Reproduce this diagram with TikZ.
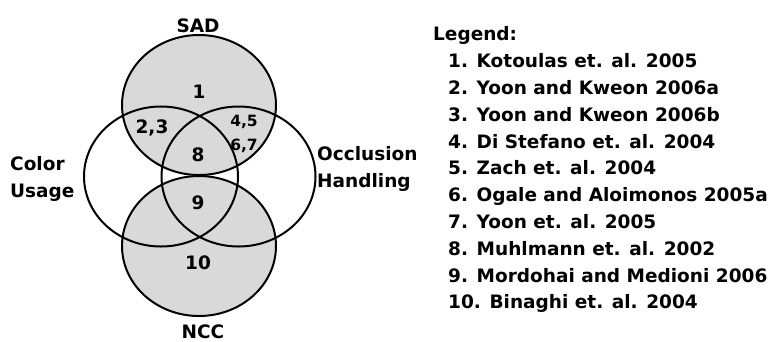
\documentclass[tikz,border=0pt]{standalone}
\usepackage{fontspec}
\setmainfont{DejaVu Sans}
\usetikzlibrary{shapes.geometric}
\definecolor{vennfill}{RGB}{217,217,217}
\begin{document}
\begin{tikzpicture}[x=1pt,y=-1pt,
  venn/.style={ellipse,line width=2pt,minimum width=154pt,minimum height=140pt,inner sep=0pt,outer sep=0pt},
  graybox/.style={venn,draw=black,fill=vennfill},
  whitebox/.style={venn,draw=black},
  lbl/.style={font=\bfseries\fontsize{18.5}{20}\selectfont,inner sep=0pt},
  small/.style={font=\bfseries\fontsize{15.5}{17}\selectfont,inner sep=0pt},
  leg/.style={font=\bfseries\fontsize{18.5}{20}\selectfont,inner sep=0pt,anchor=base west}]
\useasboundingbox (0,0) rectangle (781,341);
% circles
\node[graybox] (sad) at (199,105) {};
\node[graybox] (ncc) at (199,246) {};
\node[whitebox] (color) at (161,176.5) {};
\node[whitebox] (occl) at (238.5,176.5) {};
% set labels
\node[lbl,anchor=base] (tsad) at (198,32) {SAD};
\node[lbl,anchor=base] (tncc) at (203,338) {NCC};
\node[lbl,anchor=base west] (tcol1) at (10,170) {Color};
\node[lbl,anchor=base west] (tcol2) at (10,197) {Usage};
\node[lbl,anchor=base west] (tocc1) at (317,160.5) {Occlusion};
\node[lbl,anchor=base west] (tocc2) at (317,187) {Handling};
% region labels
\node[lbl,anchor=base] (r1) at (199,98.3) {1};
\node[lbl,anchor=base] (r23) at (152,133) {2,3};
\node[small,anchor=base] (r45) at (244,126) {4,5};
\node[small,anchor=base] (r67) at (244,150) {6,7};
\node[lbl,anchor=base] (r8) at (198,161.7) {8};
\node[lbl,anchor=base] (r9) at (198,209) {9};
\node[lbl,anchor=base] (r10) at (198,269) {10};
% legend
\node[leg] (legt) at (433,40.7) {Legend:};
\node[leg] (l1) at (448,67.7) {1. Kotoulas et. al. 2005};
\node[leg] (l2) at (448,94.5) {2. Yoon and Kweon 2006a};
\node[leg] (l3) at (448,121.3) {3. Yoon and Kweon 2006b};
\node[leg] (l4) at (448,148.1) {4. Di Stefano et. al. 2004};
\node[leg] (l5) at (448,174.9) {5. Zach et. al. 2004};
\node[leg] (l6) at (448,201.7) {6. Ogale and Aloimonos 2005a};
\node[leg] (l7) at (448,228.5) {7. Yoon et. al. 2005};
\node[leg] (l8) at (448,255.3) {8. Muhlmann et. al. 2002};
\node[leg] (l9) at (448,282.1) {9. Mordohai and Medioni 2006};
\node[leg] (l10) at (448,308.9) {10. Binaghi et. al. 2004};
\end{tikzpicture}
\end{document}
